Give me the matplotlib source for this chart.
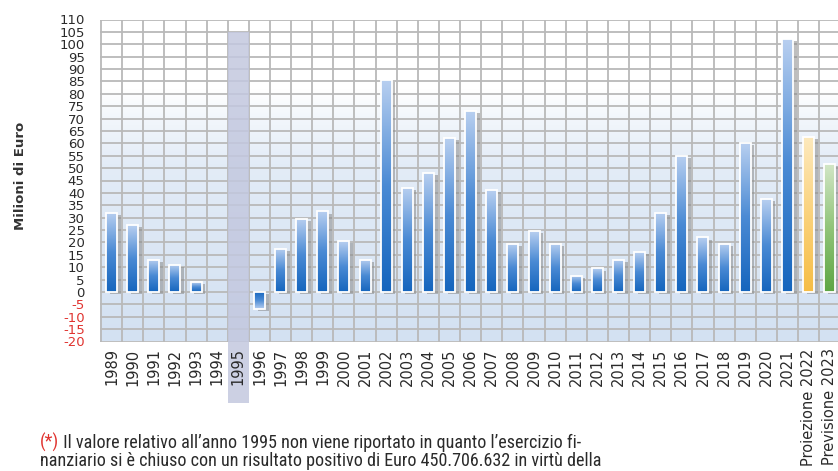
import numpy as np
import matplotlib
matplotlib.use("Agg")
import matplotlib.pyplot as plt
from matplotlib import patheffects as pe
from matplotlib.colors import LinearSegmentedColormap
from matplotlib.patches import Rectangle
from matplotlib import font_manager as fm

# ---------------- data ----------------
years = [str(y) for y in range(1989, 2024)]
tick_labels = years[:-2] + ["Proiezione 2022", "Previsione 2023"]
values = [32, 27, 13, 11, 4, np.nan, np.nan, -7, 17.5, 29.5, 32.5, 20.5, 13,
          85.5, 42, 48, 62, 73, 41, 19.5, 24.5, 19.5, 6.5, 9.5, 13, 16, 32,
          55, 22, 19.5, 60, 37.5, 102, 62.5, 51.5]
kinds = ["actual"] * 33 + ["projection", "forecast"]
highlight_year = "1995"
highlight_top = 105
y_ticks = list(range(-20, 111, 5))
y_label = "Milioni di Euro"
footnote_mark = "(*)"
footnote_line1 = " Il valore relativo all\u2019anno 1995 non viene riportato in quanto l\u2019esercizio fi-"
footnote_line2 = "nanziario si \u00e8 chiuso con un risultato positivo di Euro 450.706.632 in virt\u00f9 della"

# ---------------- styling ----------------
W, H = 838, 471
fig = plt.figure(figsize=(W / 100, H / 100), dpi=100)
ax = fig.add_axes([100 / W, 1 - 341.5 / H, 738 / W, 322 / H])

x = np.arange(len(years))
xmin, xmax = -0.55, -0.55 + 738 / 21.12
ymin, ymax = -20, 110

# background gradient
bg_cmap = LinearSegmentedColormap.from_list(
    "bg", [(0.0, "#d3e1f2"), (0.55, "#e3ecf7"), (0.7, "#f3f7fc"), (0.78, "#ffffff"), (1.0, "#ffffff")])
grad = np.linspace(0, 1, 256).reshape(-1, 1)
ax.imshow(grad, extent=(xmin, xmax, ymin, ymax), origin="lower", cmap=bg_cmap,
          aspect="auto", zorder=0, interpolation="bicubic")

grid_col = "#b9b9b9"
for yt in y_ticks:
    ax.axhline(yt, color=grid_col, lw=1.3, zorder=1)
for b in np.arange(-0.5, len(years) + 0.5, 1):
    ax.axvline(b, color=grid_col, lw=1.3, zorder=1)

# highlighted (missing) year column
hi = years.index(highlight_year)
ax.add_patch(Rectangle((hi - 0.5, -45), 1, highlight_top + 45, facecolor="#c3c8df",
                       edgecolor="none", alpha=0.85, zorder=2, clip_on=False))

cmaps = {
    "actual": LinearSegmentedColormap.from_list("a", ["#1565bd", "#4a8ad4", "#b8cff0"]),
    "projection": LinearSegmentedColormap.from_list("p", ["#f6bd45", "#fad27c", "#fde9bd"]),
    "forecast": LinearSegmentedColormap.from_list("f", ["#5ea544", "#90c479", "#d2e6c6"]),
}

vals = np.array(values, dtype=float)
ok = ~np.isnan(vals)
xs = x[ok]
vs = vals[ok]
ks = [k for k, m in zip(kinds, ok) if m]

shadow = [pe.SimplePatchShadow(offset=(2.6, -1.5), shadow_rgbFace="#8a8a8a", alpha=0.55), pe.Normal()]
bars = ax.bar(xs, vs, width=0.52, color="none", edgecolor="none", zorder=3, path_effects=shadow)
for patch, k in zip(bars.patches, ks):
    x0 = patch.get_x()
    w = patch.get_width()
    y0 = patch.get_y()
    h = patch.get_height()
    im = ax.imshow(grad, extent=(x0, x0 + w, y0, y0 + h), origin="lower", cmap=cmaps[k],
                   aspect="auto", zorder=3.5, interpolation="bicubic")
    im.set_clip_path(patch)
ax.bar(xs, vs, width=0.52, fill=False, edgecolor="white", linewidth=1.3, zorder=4)

ax.set_xlim(xmin, xmax)
ax.set_ylim(ymin, ymax)
for s in ax.spines.values():
    s.set_visible(False)
ax.set_axisbelow(False)

ax.set_yticks(y_ticks)
ax.set_yticklabels([str(v) for v in y_ticks])
ax.tick_params(axis="y", length=0, pad=11, labelsize=9.5, labelcolor="#2a2a2a")
for lab, v in zip(ax.get_yticklabels(), y_ticks):
    if v < 0:
        lab.set_color("#e0332f")

ax.set_xticks(x)
ax.set_xticklabels(tick_labels, rotation=90, va="top", ha="center")
ax.tick_params(axis="x", length=0, pad=5, labelsize=10.5, labelcolor="#2a2a2a")

fig.text(21 / W, 1 - 176 / H, y_label, rotation=90, ha="center", va="center",
         fontsize=9.5, fontweight="bold", color="#333333")

# footnote
fam = "DejaVu Sans"
for cand in ["Liberation Sans Narrow", "Roboto Condensed", "Open Sans"]:
    try:
        fm.findfont(fm.FontProperties(family=cand), fallback_to_default=False)
        fam = cand
        break
    except Exception:
        pass

fs = 10
t_star = fig.text(40 / W, 1 - 452 / H, footnote_mark, color="#e0332f", fontsize=fs,
                  family=fam, va="bottom", ha="left")
t_rest = ax.annotate(footnote_line1, xy=(1, 0), xycoords=t_star, va="bottom", ha="left",
                     fontsize=fs, family=fam, color="#2a2a2a", annotation_clip=False)
t_l2 = fig.text(40 / W, 1 - 470 / H, footnote_line2, fontsize=fs, family=fam,
                va="bottom", ha="left", color="#2a2a2a")
fig.canvas.draw()
r = fig.canvas.get_renderer()
wid = t_l2.get_window_extent(r).width
scale = 558 / wid
for t in (t_star, t_rest, t_l2):
    t.set_fontsize(fs * scale)

fig.savefig("out.png", dpi=100)
